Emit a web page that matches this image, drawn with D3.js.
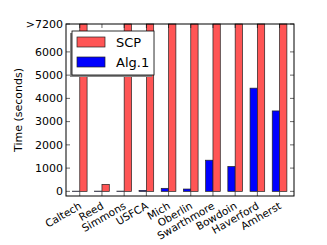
<!DOCTYPE html>
<html>
<head>
<meta charset="utf-8">
<script src="https://cdn.jsdelivr.net/npm/d3@7"></script>
<style>
  body { margin: 0; background: #fff; }
  text { font-family: "DejaVu Sans", sans-serif; }
</style>
</head>
<body>
<svg id="chart" width="327" height="245"></svg>
<script>
const colleges = ["Caltech", "Reed", "Simmons", "USFCA", "Mich", "Oberlin", "Swarthmore", "Bowdoin", "Haverford", "Amherst"];
const alg1 = [8, 10, 10, 40, 130, 100, 1340, 1070, 4440, 3460];
const scp = [7200, 300, 7200, 7200, 7200, 7200, 7200, 7200, 7200, 7200];
const yTicks = [0, 1000, 2000, 3000, 4000, 5000, 6000, 7200];
const yTickLabels = ["0", "1000", "2000", "3000", "4000", "5000", "6000", ">7200"];

const svg = d3.select("#chart");
const plotL = 66, plotR = 294, plotT = 24, plotB = 196;
const barW = 0.33;

const x = d3.scaleLinear().domain([-0.62, 9.65]).range([plotL, plotR]);
const y = d3.scaleLinear().domain([-200, 7200]).range([plotB, plotT]);

const plot = svg.append("g");

// Alg.1 bars (left of each tick)
plot.selectAll("rect.alg")
    .data(alg1)
    .enter().append("rect")
    .attr("class", "alg")
    .attr("x", (d, i) => x(i - barW))
    .attr("width", x(barW) - x(0))
    .attr("y", d => y(d))
    .attr("height", d => y(0) - y(d))
    .attr("fill", "#0000ff")
    .attr("stroke", "#222")
    .attr("stroke-width", 0.7);

// SCP bars (right of each tick)
plot.selectAll("rect.scp")
    .data(scp)
    .enter().append("rect")
    .attr("class", "scp")
    .attr("x", (d, i) => x(i))
    .attr("width", x(barW) - x(0))
    .attr("y", d => y(d))
    .attr("height", d => y(0) - y(d))
    .attr("fill", "#ff5555")
    .attr("stroke", "#222")
    .attr("stroke-width", 0.7);

// inward ticks on all four sides
const tickLen = 4;
const ax = svg.append("g").attr("stroke", "#000").attr("stroke-width", 0.6);
yTicks.forEach(t => {
    ax.append("line").attr("x1", plotL).attr("x2", plotL + tickLen).attr("y1", y(t)).attr("y2", y(t));
    ax.append("line").attr("x1", plotR).attr("x2", plotR - tickLen).attr("y1", y(t)).attr("y2", y(t));
});
colleges.forEach((c, i) => {
    ax.append("line").attr("x1", x(i)).attr("x2", x(i)).attr("y1", plotB).attr("y2", plotB - tickLen);
    ax.append("line").attr("x1", x(i)).attr("x2", x(i)).attr("y1", plotT).attr("y2", plotT + tickLen);
});

// frame
svg.append("rect")
    .attr("x", plotL).attr("y", plotT)
    .attr("width", plotR - plotL).attr("height", plotB - plotT)
    .attr("fill", "none").attr("stroke", "#000").attr("stroke-width", 1);

// y tick labels
svg.append("g").selectAll("text")
    .data(yTicks)
    .enter().append("text")
    .attr("x", plotL - 3)
    .attr("y", d => y(d))
    .attr("dy", "0.35em")
    .attr("text-anchor", "end")
    .attr("font-size", 11)
    .text((d, i) => yTickLabels[i]);

// x tick labels, rotated
svg.append("g").selectAll("text")
    .data(colleges)
    .enter().append("text")
    .attr("transform", (d, i) => `translate(${x(i) + 2.5},${plotB + 12}) rotate(-30)`)
    .attr("text-anchor", "end")
    .attr("font-size", 10.5)
    .text(d => d);

// y axis label
svg.append("text")
    .attr("transform", `translate(22,${(plotT + plotB) / 2}) rotate(-90)`)
    .attr("text-anchor", "middle")
    .attr("font-size", 11)
    .text("Time (seconds)");

// legend with shadow
const lg = svg.append("g").attr("transform", "translate(72,31)");
lg.append("rect").attr("x", -2).attr("y", 2).attr("width", 82).attr("height", 44).attr("fill", "#888");
lg.append("rect").attr("x", 0).attr("y", 0).attr("width", 82).attr("height", 44)
    .attr("fill", "#fff").attr("stroke", "#000").attr("stroke-width", 0.8);
const entries = [{ name: "SCP", color: "#ff5555" }, { name: "Alg.1", color: "#0000ff" }];
entries.forEach((e, i) => {
    lg.append("rect").attr("x", 5).attr("y", 6 + i * 20).attr("width", 28).attr("height", 10)
        .attr("fill", e.color).attr("stroke", "#222").attr("stroke-width", 0.7);
    lg.append("text").attr("x", 44).attr("y", 11 + i * 20).attr("dy", "0.35em")
        .attr("font-size", 13).text(e.name);
});
</script>
</body>
</html>
